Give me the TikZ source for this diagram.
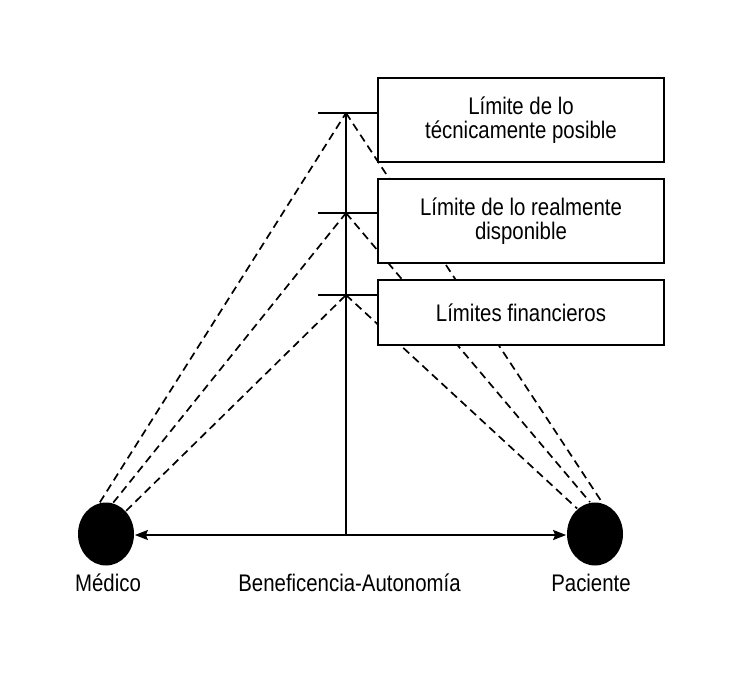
\documentclass[tikz,border=0pt]{standalone}
\usepackage{fontspec}
\setmainfont{Liberation Sans}[FakeStretch=0.85]
\usetikzlibrary{shapes.geometric,arrows.meta}
\begin{document}
\begin{tikzpicture}[x=1pt,y=-1pt,
  line width=1.8pt,
  txt/.style={font=\fontsize{24}{24}\selectfont},
  limbox/.style={draw, fill=white, minimum width=286pt, inner sep=2pt, align=center, txt},
  person/.style={ellipse, fill=black, minimum width=56pt, minimum height=63pt, inner sep=0pt},
  dsh/.style={dash pattern=on 8pt off 5pt, line width=1.7pt},
  tick/.style={line width=1.8pt}
]
\path[use as bounding box] (0,0) rectangle (730,693);

% persons
\node[person] (med) at (106,534) {};
\node[person] (pac) at (595,534) {};

% apex coordinates
\coordinate (a1) at (346,113);
\coordinate (a2) at (346,213);
\coordinate (a3) at (346,295);
\coordinate (base) at (346,535);

% dashed lines
\draw[dsh] (med.101) -- (a1);
\draw[dsh] (med.77) -- (a2);
\draw[dsh] (med.49) -- (a3);
\draw[dsh] (a1) -- (pac.77);
\draw[dsh] (a2) -- (pac.99);
\draw[dsh] (a3) -- (pac.125);

% boxes
\node[limbox, minimum height=84pt] (b1) at (521,120) {Límite de lo\\técnicamente posible};
\node[limbox, minimum height=84pt] (b2) at (521,221) {Límite de lo realmente\\disponible};
\node[limbox, minimum height=65pt] (b3) at (521,312.5) {Límites financieros};

% vertical line and ticks
\draw (a1) -- (base);
\draw[tick] ([xshift=-28pt]a1) -- (a1 -| b1.west);
\draw[tick] ([xshift=-28pt]a2) -- (a2 -| b2.west);
\draw[tick] ([xshift=-28pt]a3) -- (a3 -| b3.west);

% horizontal arrow
\draw[{Stealth[length=13pt,width=10pt,inset=2pt]}-{Stealth[length=13pt,width=10pt,inset=2pt]}]
  (med.east |- base) -- (pac.west |- base);

% labels
\node[txt, anchor=base] (lm) at (108,591) {Médico};
\node[txt, anchor=base] (lp) at (591,591) {Paciente};
\node[txt, anchor=base] (lb) at (349.5,591) {Beneficencia-Autonomía};
\end{tikzpicture}
\end{document}
